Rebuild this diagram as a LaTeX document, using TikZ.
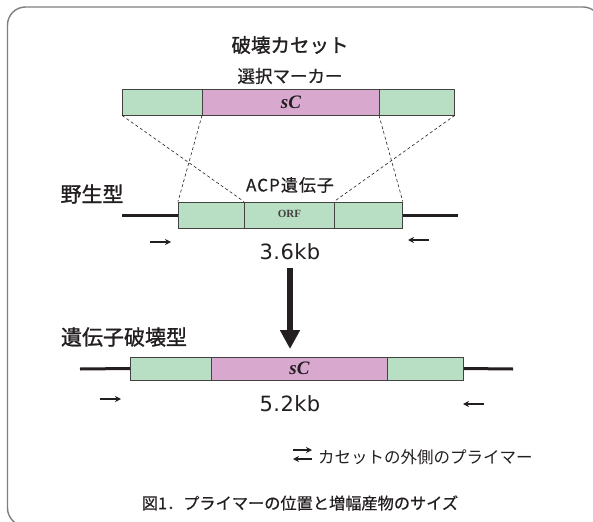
\documentclass[tikz,border=0pt]{standalone}
\usepackage{fontspec}
\setmainfont{Noto Sans CJK JP}
\newfontfamily\jpmed{Noto Sans CJK JP}[FakeBold=1.2]
\newfontfamily\jpsemi{Noto Sans CJK JP}[FakeBold=0.6]
\newfontfamily\jpwide{Noto Sans CJK JP}[FakeBold=0.6, LetterSpace=6]
\newfontfamily\kbfont{DejaVu Sans}[LetterSpace=2]
\newfontfamily\serifb{Liberation Serif}
\usetikzlibrary{arrows.meta}
\definecolor{seggreen}{HTML}{B8DEC4}
\definecolor{segpink}{HTML}{D8A8CF}
\definecolor{ink}{HTML}{231F20}
\definecolor{framegray}{HTML}{7F7F7F}
\tikzset{
  seg/.style={draw=ink!85, line width=0.8pt, inner sep=0pt, anchor=west},
  cas/.style={seg, minimum height=26pt},
  wts/.style={seg, minimum height=26pt},
  dis/.style={seg, minimum height=23pt},
  dnaline/.style={draw=ink, line width=3pt},
  guide/.style={draw=ink, line width=0.6pt, dash pattern=on 3pt off 2.5pt},
  primer/.style={draw=ink, line width=1.1pt, -{Stealth[length=6pt,width=6pt]}},
  lbl/.style={text=ink, inner sep=0pt},
}
\begin{document}
\begin{tikzpicture}[x=1pt,y=-1pt]
\useasboundingbox (0,0) rectangle (593,521);
\clip (0,0) rectangle (593,521);
\fill[white] (0,0) rectangle (593,521);
\draw[framegray, line width=1.4pt, rounded corners=18pt] (7.5,7) rectangle (601,526);

% titles
\node[lbl, font=\jpmed\fontsize{19.5}{19.5}\selectfont] (title) at (290,45) {破壊カセット};
\node[lbl, font=\jpsemi\fontsize{17.5}{17.5}\selectfont] (marker) at (290,76) {選択マーカー};

% cassette
\node[cas, fill=seggreen, minimum width=80pt] (c1) at (122,102) {};
\node[cas, fill=segpink, minimum width=177pt] (c2) at (202,102) {};
\node[cas, fill=seggreen, minimum width=75pt] (c3) at (379,102) {};
\node[lbl, font=\serifb\bfseries\itshape\fontsize{19}{19}\selectfont] (sc1) at (c2.center) {sC};

% wild type
\node[lbl, font=\jpmed\fontsize{21}{21}\selectfont] (wtlabel) at (92,194) {野生型};
\node[lbl, font=\jpwide\fontsize{17}{17}\selectfont] (acp) at (290,185) {ACP遺伝子};
\node[wts, fill=seggreen, minimum width=66pt] (w1) at (178,215) {};
\node[wts, fill=seggreen, minimum width=90pt] (w2) at (244,215) {};
\node[wts, fill=seggreen, minimum width=68pt] (w3) at (334,215) {};
\node[lbl, text=ink!85, font=\serifb\bfseries\fontsize{11}{11}\selectfont] (orf) at ([yshift=1.5pt]w2.center) {ORF};
\coordinate (wl) at (122,215);
\coordinate (wr) at (458,215);
\draw[dnaline] (wl) -- (w1.west);
\draw[dnaline] (w3.east) -- (wr);

% dashed guides
\draw[guide] (c1.south west) -- (w2.north west);
\draw[guide] (c2.south west) -- (w1.north west);
\draw[guide] (c3.south west) -- (w3.north east);
\draw[guide] (c3.south east) -- (w3.north west);

% primers wild type
\coordinate (p1a) at (150,242); \coordinate (p1b) at (171,242);
\coordinate (p2a) at (429,240); \coordinate (p2b) at (408,240);
\draw[primer] (p1a) -- (p1b);
\draw[primer] (p2a) -- (p2b);
\node[lbl, font=\kbfont\fontsize{21}{21}\selectfont] (kb36) at (290,252) {3.6kb};

% big arrow
\coordinate (arrS) at (290,268);
\coordinate (arrE) at (290,349);
\draw[ink, line width=5.5pt, -{Triangle[length=19pt,width=19pt]}] (arrS) -- (arrE);

% disrupted
\node[lbl, font=\jpmed\fontsize{21}{21}\selectfont] (dlabel) at (124,337) {遺伝子破壊型};
\node[dis, fill=seggreen, minimum width=81pt] (d1) at (130,368.5) {};
\node[dis, fill=segpink, minimum width=176pt] (d2) at (211,368.5) {};
\node[dis, fill=seggreen, minimum width=76pt] (d3) at (387,368.5) {};
\node[lbl, font=\serifb\bfseries\itshape\fontsize{19}{19}\selectfont] (sc2) at (d2.center) {sC};
\coordinate (dl) at (80,369);
\coordinate (dr) at (513,369);
\draw[dnaline] (dl) -- (d1.west);
\draw[dnaline] (d3.east) -- (dr);
\coordinate (p3a) at (100,399); \coordinate (p3b) at (121,399);
\coordinate (p4a) at (484,404); \coordinate (p4b) at (463,404);
\draw[primer] (p3a) -- (p3b);
\draw[primer] (p4a) -- (p4b);
\node[lbl, font=\kbfont\fontsize{21}{21}\selectfont] (kb52) at (290,404) {5.2kb};

% legend
\coordinate (l1a) at (293,450); \coordinate (l1b) at (312,450);
\coordinate (l2a) at (312,459); \coordinate (l2b) at (293,459);
\draw[primer] (l1a) -- (l1b);
\draw[primer] (l2a) -- (l2b);
\node[lbl, anchor=west, font=\fontsize{16.5}{16.5}\selectfont] (legend) at (318,457) {カセットの外側のプライマー};

% caption
\node[lbl, font=\jpsemi\fontsize{16.2}{16.2}\selectfont] (caption) at (300,503) {図1．プライマーの位置と増幅産物のサイズ};
\end{tikzpicture}
\end{document}
